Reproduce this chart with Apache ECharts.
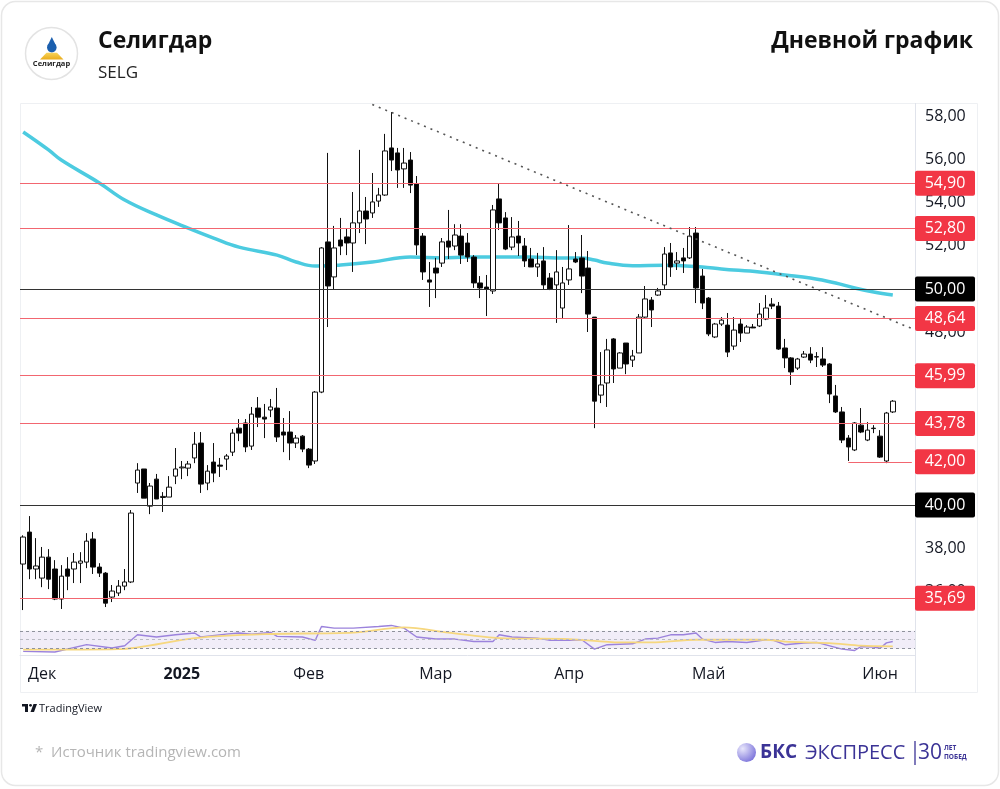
<!DOCTYPE html>
<html>
<head>
<meta charset="utf-8">
<script src="https://cdn.jsdelivr.net/npm/echarts@6/dist/echarts.min.js"></script>
<style>
  html, body { margin: 0; padding: 0; background: #fff; }
  #chart { width: 1000px; height: 789px; }
</style>
</head>
<body>
<div id="chart"></div>
<script>
// daily candles, [open, close, low, high]
const candles = [
  [37.27, 38.52, 35.14, 38.6], [38.75, 37.04, 36.57, 39.49], [37.04, 37.18, 36.57, 38.47], [36.62, 37.59, 36.2, 38.06],
  [37.59, 36.57, 36.11, 37.96], [37.04, 35.65, 35.6, 37.45], [35.65, 36.71, 35.19, 37.22], [37.04, 36.71, 36.06, 37.59],
  [37.04, 37.36, 36.39, 37.78], [37.31, 37.41, 36.39, 37.82], [37.36, 38.33, 37.08, 38.7], [38.43, 37.13, 36.81, 38.75],
  [37.13, 36.85, 36.67, 37.31], [36.85, 35.46, 35.28, 36.9], [35.74, 36.02, 35.51, 36.3], [35.93, 36.25, 35.79, 36.53],
  [36.25, 36.44, 36.06, 37.04], [36.44, 39.63, 36.39, 39.77], [41.02, 41.62, 40.56, 41.94], [41.67, 40.32, 40.32, 41.67],
  [39.95, 40.88, 39.58, 41.02], [41.2, 40.28, 40.28, 41.44], [40.35, 40.4, 39.68, 40.6], [40.37, 40.83, 40.37, 41.34],
  [41.34, 41.67, 40.97, 42.64], [41.72, 41.76, 41.2, 42.04], [41.71, 41.9, 41.34, 42.04], [42.18, 42.82, 41.94, 43.38],
  [42.87, 40.97, 40.56, 43.38], [41.02, 41.57, 40.69, 41.85], [41.99, 41.48, 41.06, 42.87], [41.85, 41.8, 41.3, 42.18],
  [42.13, 42.27, 41.62, 42.36], [42.45, 43.33, 42.27, 43.52], [43.56, 43.33, 42.96, 43.98], [43.8, 42.69, 42.45, 43.98],
  [42.73, 44.21, 42.55, 44.54], [44.49, 44.07, 43.61, 45.0], [44.07, 43.98, 43.1, 44.68], [44.4, 44.54, 44.07, 44.91],
  [44.49, 43.15, 42.92, 45.42], [43.38, 43.24, 42.45, 44.03], [43.38, 42.87, 42.08, 44.35], [42.87, 43.1, 42.64, 43.24],
  [43.19, 42.59, 42.45, 43.24], [42.59, 41.85, 41.71, 42.64], [42.04, 45.23, 41.9, 45.28], [45.23, 51.9, 45.18, 51.94],
  [52.18, 50.14, 48.24, 56.3], [50.56, 51.9, 50.0, 52.92], [52.27, 51.99, 51.57, 53.29], [52.41, 52.13, 51.57, 52.82],
  [52.13, 53.06, 50.79, 54.49], [53.06, 53.61, 52.59, 56.44], [53.61, 53.24, 52.08, 54.26], [53.52, 54.03, 53.29, 55.37],
  [54.07, 54.35, 53.8, 54.68], [54.35, 56.39, 54.31, 57.18], [56.53, 55.97, 55.46, 58.19], [56.3, 55.51, 54.68, 56.53],
  [55.56, 55.83, 54.68, 56.53], [55.97, 54.81, 54.44, 56.34], [54.86, 52.04, 51.57, 55.23], [52.45, 50.79, 50.42, 52.59],
  [50.42, 50.32, 49.17, 51.25], [50.97, 50.74, 49.58, 51.44], [51.2, 52.18, 51.02, 52.36], [52.22, 51.94, 51.39, 53.66],
  [51.99, 52.5, 51.8, 53.0], [52.45, 51.57, 51.16, 53.0], [52.13, 51.48, 51.25, 52.59], [51.48, 50.28, 50.05, 51.57],
  [50.28, 50.05, 49.58, 50.6], [50.09, 50.0, 48.75, 50.65], [49.91, 53.66, 49.77, 53.89], [54.17, 53.06, 52.73, 54.86],
  [53.29, 51.85, 51.8, 53.56], [51.94, 52.41, 51.8, 53.33], [52.45, 52.13, 51.53, 53.15], [51.99, 51.3, 51.02, 52.36],
  [51.39, 51.02, 51.02, 51.9], [51.02, 51.16, 50.56, 51.67], [51.3, 50.19, 50.0, 51.94], [50.51, 50.0, 49.95, 50.74],
  [50.19, 50.79, 48.43, 51.8], [49.12, 50.28, 48.61, 51.02], [50.42, 50.93, 50.19, 52.96], [51.39, 51.25, 51.2, 51.71],
  [51.44, 50.6, 49.81, 52.5], [50.97, 48.84, 48.01, 51.76], [48.7, 44.81, 43.56, 48.7], [45.09, 45.56, 44.72, 47.08],
  [45.65, 47.18, 44.54, 47.69], [47.69, 46.3, 45.65, 47.73], [46.34, 47.04, 46.34, 47.08], [47.5, 46.53, 46.06, 47.5],
  [46.71, 46.9, 46.39, 47.18], [47.04, 48.7, 47.04, 48.84], [48.7, 49.54, 48.66, 50.14], [49.49, 49.03, 48.24, 49.63],
  [49.72, 49.91, 49.68, 50.05], [50.19, 51.62, 50.0, 51.94], [51.67, 51.02, 50.56, 52.13], [51.2, 51.3, 50.88, 51.71],
  [51.44, 51.3, 50.74, 51.9], [51.44, 52.45, 51.39, 52.87], [52.59, 50.05, 49.35, 52.87], [50.6, 49.35, 49.07, 50.93],
  [49.58, 47.92, 47.82, 49.63], [47.78, 48.38, 47.73, 48.43], [48.38, 48.56, 48.29, 48.7], [48.33, 47.08, 46.85, 48.89],
  [47.36, 48.1, 47.18, 48.7], [48.38, 47.96, 47.55, 48.66], [47.96, 48.24, 47.96, 48.33], [48.24, 48.2, 48.19, 48.38],
  [48.29, 48.84, 48.24, 49.35], [48.61, 49.12, 48.56, 49.72], [49.3, 49.21, 49.07, 49.58], [49.21, 47.22, 47.18, 49.4],
  [47.27, 46.81, 46.34, 47.69], [46.81, 46.16, 45.56, 46.85], [46.34, 46.76, 46.25, 46.81], [46.85, 46.99, 46.81, 47.13],
  [46.99, 46.71, 46.57, 47.31], [46.87, 46.85, 46.39, 47.08], [46.76, 46.48, 46.39, 47.31], [46.53, 45.14, 44.72, 46.57],
  [45.05, 44.31, 44.26, 45.56], [44.31, 43.01, 42.87, 44.54], [43.1, 42.69, 42.04, 43.24], [42.55, 43.8, 42.5, 43.84],
  [43.7, 43.38, 43.33, 44.49], [43.01, 43.47, 42.96, 43.84], [43.56, 43.54, 43.33, 43.7], [43.19, 42.22, 42.18, 43.47],
  [42.04, 44.26, 41.94, 44.31], [44.31, 44.81, 44.26, 44.86]
];

// moving average, [bar index, value]
const maPoints = [
  [0, 57.27], [4, 56.44], [6, 55.97], [12, 54.91], [16, 54.12], [21, 53.43], [26, 52.82], [30, 52.36],
  [34, 51.94], [40, 51.57], [43, 51.25], [46, 51.06], [47, 51.06], [50, 51.11], [55, 51.25], [61, 51.48],
  [66, 51.44], [70, 51.48], [75, 51.48], [80, 51.48], [84, 51.44], [88, 51.44], [90, 51.34], [92, 51.2],
  [96, 51.08], [101, 51.1], [107, 51.02], [110, 50.93], [116, 50.79], [120, 50.65], [124, 50.51],
  [128, 50.28], [131, 50.05], [134, 49.86], [137, 49.72]
];

// RSI pane
const rsiPoints = [
  [0, 24], [5, 22.7], [10, 39], [14, 31.5], [16, 36.7], [18, 61], [21, 56], [24, 61], [27, 65], [28, 56],
  [32, 62.6], [34, 65], [36, 62.6], [39, 66.3], [40, 57.4], [44, 56], [46, 48.5], [47, 79.6], [49, 76],
  [52, 76], [56, 79.6], [58, 81.9], [60, 76], [62, 56], [65, 51.5], [68, 51.5], [71, 46], [74, 46], [75, 61],
  [77, 56], [81, 53.7], [83, 48.5], [86, 48.5], [88, 50], [90, 29], [92, 39], [96, 41], [98, 51.5],
  [100, 53.7], [102, 61], [104, 61], [106, 65], [107, 51.5], [109, 44], [111, 46], [114, 44], [117, 50],
  [118, 50], [120, 39], [123, 42.6], [125, 44], [129, 29], [131, 26], [132, 35], [134, 33.7], [135, 31],
  [136, 43], [137, 46]
];
const rsiMaPoints = [
  [0, 27.8], [15, 29], [27, 53.7], [38, 62.6], [52, 66], [60, 77.4], [67, 66], [75, 53.7], [86, 51.5],
  [94, 44], [99, 44], [106, 50], [117, 50], [120, 46], [127, 42.6], [132, 36.7], [137, 35]
];
const rsiBands = [30, 50, 70];

// levels
const redLevels = [54.90, 52.80, 48.64, 45.99, 43.78, 35.69];
const blackLevels = [50.00, 40.00];
const shortLevel = { value: 42.00, from: 130 };
const trendLine = [[55, 58.54], [140, 48.17]];

// axes
const barCount = 141;
const categories = Array.from({ length: barCount }, (_, i) => String(i));
const monthTicks = { 3: "Дек", 25: "2025", 45: "Фев", 65: "Мар", 86: "Апр", 108: "Май", 135: "Июн" };
const priceTicks = [36, 38, 40, 42, 44, 46, 48, 50, 52, 54, 56, 58];

const FONT = "'Open Sans', 'Noto Sans', sans-serif";
const RED = "#f23645";
const RED_LINE = "#f26670";
const INK = "#3b3396";
const fmt = (v) => Number(v).toFixed(2).replace(".", ",");

function tagLabel(bg) {
  return {
    show: true,
    position: "end",
    distance: 0,
    formatter: (p) => `{t|${fmt(p.value)}}`,
    backgroundColor: bg,
    padding: [4, 6, 4, 6],
    borderRadius: 2,
    rich: { t: { width: 48, align: "center", color: "#fff", fontSize: 16, fontFamily: FONT, lineHeight: 17 } },
  };
}

const solid = (color) => ({ color, width: 1.2, type: "solid" });

const levelLines = [
  ...redLevels.map((v) => ({ yAxis: v, lineStyle: solid(RED_LINE), label: tagLabel(RED) })),
  ...blackLevels.map((v) => ({ yAxis: v, lineStyle: solid("#333"), label: tagLabel("#000") })),
  { yAxis: shortLevel.value, lineStyle: { color: "rgba(0,0,0,0)", width: 1, type: "solid" }, label: tagLabel(RED) },
  [
    { coord: [shortLevel.from, shortLevel.value], lineStyle: solid(RED_LINE), label: { show: false } },
    { coord: [barCount - 1, shortLevel.value] },
  ],
  [
    { coord: trendLine[0], lineStyle: { color: "#555", width: 1.6, type: [2, 5] }, label: { show: false } },
    { coord: trendLine[1] },
  ],
];

const chart = echarts.init(document.getElementById("chart"), null, { renderer: "canvas" });

chart.setOption({
  animation: false,
  backgroundColor: "#fff",
  grid: [
    { left: 20, width: 895, top: 103, height: 517 },
    { left: 20, width: 895, top: 620, height: 35 },
  ],
  xAxis: [
    {
      type: "category", gridIndex: 0, data: categories, boundaryGap: true,
      axisLine: { show: false }, axisTick: { show: false }, axisLabel: { show: false }, splitLine: { show: false },
    },
    {
      type: "category", gridIndex: 1, data: categories, boundaryGap: true,
      axisLine: { show: true, lineStyle: { color: "#e0e3eb" } },
      axisTick: { show: false },
      axisLabel: {
        interval: 0,
        margin: 11,
        color: "#131722",
        fontSize: 16,
        fontFamily: FONT,
        formatter: (v, idx) => {
          const t = monthTicks[idx];
          if (!t) return "";
          return t === "2025" ? `{b|${t}}` : t;
        },
        rich: { b: { fontWeight: "bold", fontSize: 16, fontFamily: FONT, color: "#131722" } },
      },
    },
  ],
  yAxis: [
    {
      type: "value", gridIndex: 0, position: "right", min: 34.68, max: 58.61,
      axisLine: { show: false }, axisTick: { show: false }, splitLine: { show: false },
      axisLabel: {
        customValues: priceTicks,
        margin: 10,
        color: "#131722",
        fontSize: 16,
        fontFamily: FONT,
        formatter: (v) => fmt(v),
      },
    },
    {
      type: "value", gridIndex: 1, position: "right", min: 16, max: 94,
      axisLine: { show: false }, axisTick: { show: false }, splitLine: { show: false }, axisLabel: { show: false },
    },
  ],
  series: [
    {
      name: "SELG",
      type: "candlestick",
      xAxisIndex: 0, yAxisIndex: 0,
      data: candles,
      barWidth: 5,
      itemStyle: { color: "#ffffff", color0: "#000000", borderColor: "#111", borderColor0: "#111", borderWidth: 1 },
      markLine: { silent: true, symbol: ["none", "none"], animation: false, data: levelLines },
      z: 3,
    },
    {
      name: "MA",
      type: "line",
      xAxisIndex: 0, yAxisIndex: 0,
      data: maPoints,
      smooth: 0.4,
      showSymbol: false,
      lineStyle: { color: "#4ccbe0", width: 3.5 },
      z: 2,
    },
    {
      name: "RSI",
      type: "line",
      xAxisIndex: 1, yAxisIndex: 1,
      data: rsiPoints,
      showSymbol: false,
      lineStyle: { color: "#9b82dc", width: 1.4 },
      markArea: {
        silent: true,
        itemStyle: { color: "rgba(126,87,194,0.11)" },
        data: [[{ yAxis: rsiBands[0] }, { yAxis: rsiBands[2] }]],
      },
      markLine: {
        silent: true, symbol: ["none", "none"], label: { show: false },
        data: rsiBands.map((v) => ({
          yAxis: v,
          lineStyle: { color: v === 50 ? "#b8b9c2" : "#8f929c", width: 1, type: [3, 3] },
        })),
      },
    },
    {
      name: "RSI MA",
      type: "line",
      xAxisIndex: 1, yAxisIndex: 1,
      data: rsiMaPoints,
      smooth: 0.3,
      showSymbol: false,
      lineStyle: { color: "#f6d77e", width: 1.8 },
    },
  ],
  graphic: [
    // card
    { type: "rect", shape: { x: 1.5, y: 1.5, width: 997, height: 784, r: 14 }, style: { fill: "none", stroke: "#e7e7e7", lineWidth: 1.5 } },
    // chart frame
    { type: "rect", shape: { x: 20.5, y: 103.5, width: 957, height: 589 }, style: { fill: "none", stroke: "#eef0f3", lineWidth: 1 } },
    { type: "line", shape: { x1: 915.5, y1: 103, x2: 915.5, y2: 693 }, style: { stroke: "#e0e3eb", lineWidth: 1 } },
    // logo
    { type: "circle", shape: { cx: 51.5, cy: 53.5, r: 26 }, style: { fill: "#fff", stroke: "#e3e3e3", lineWidth: 1.5 } },
    { type: "polygon", shape: { points: [[51.8, 37], [47.4, 46], [56.2, 46]] }, style: { fill: "#1b5fae" } },
    { type: "circle", shape: { cx: 51.8, cy: 47.6, r: 4.8 }, style: { fill: "#1b5fae" } },
    {
      type: "polygon",
      shape: { points: [[46.5, 52.8], [57, 52.8], [63.5, 59.5], [40, 59.5]] },
      style: { fill: { type: "linear", x: 0, y: 0, x2: 0, y2: 1, colorStops: [{ offset: 0, color: "#f7d35a" }, { offset: 1, color: "#e9ac1c" }] } },
    },
    { type: "text", x: 51.5, y: 64, style: { text: "Селигдар", font: `bold 7.5px ${FONT}`, fill: "#222", align: "center", verticalAlign: "middle" } },
    // header
    { type: "text", x: 98, y: 41, style: { text: "Селигдар", font: `bold 23px ${FONT}`, fill: "#111", verticalAlign: "middle" } },
    { type: "text", x: 98, y: 73, style: { text: "SELG", font: `17px ${FONT}`, fill: "#222", verticalAlign: "middle" } },
    { type: "text", x: 973, y: 41, style: { text: "Дневной график", font: `bold 23px ${FONT}`, fill: "#111", align: "right", verticalAlign: "middle" } },
    // TradingView mark
    { type: "rect", shape: { x: 22, y: 704, width: 6, height: 2.5 }, style: { fill: "#131722" } },
    { type: "rect", shape: { x: 25, y: 704, width: 3, height: 8 }, style: { fill: "#131722" } },
    { type: "circle", shape: { cx: 30.5, cy: 705.3, r: 1.4 }, style: { fill: "#131722" } },
    { type: "polygon", shape: { points: [[33.5, 704], [37, 704], [34, 712], [30.5, 712]] }, style: { fill: "#131722" } },
    { type: "text", x: 39, y: 708.5, style: { text: "TradingView", font: `11px ${FONT}`, fill: "#131722", verticalAlign: "middle" } },
    // footer
    { type: "text", x: 35, y: 753, style: { text: "*  Источник tradingview.com", font: `15px ${FONT}`, fill: "#b5b5b5", verticalAlign: "middle" } },
    {
      type: "circle", shape: { cx: 746.5, cy: 752.5, r: 9.5 },
      style: { fill: { type: "radial", x: 0.3, y: 0.3, r: 0.9, colorStops: [{ offset: 0, color: "#e8e6fb" }, { offset: 1, color: "#6c63d6" }] } },
    },
    { type: "text", x: 760, y: 753, style: { text: "БКС", font: `bold 19px ${FONT}`, fill: INK, verticalAlign: "middle" } },
    { type: "text", x: 805, y: 753, style: { text: "ЭКСПРЕСС", font: `20px ${FONT}`, fill: INK, verticalAlign: "middle" } },
    { type: "line", shape: { x1: 915, y1: 741, x2: 915, y2: 765 }, style: { stroke: INK, lineWidth: 1.3 } },
    { type: "text", x: 918, y: 753, style: { text: "30", font: `21px ${FONT}`, fill: INK, verticalAlign: "middle" } },
    { type: "text", x: 944, y: 748, style: { text: "ЛЕТ", font: `bold 6.5px ${FONT}`, fill: INK, verticalAlign: "middle" } },
    { type: "text", x: 944, y: 757, style: { text: "ПОБЕД", font: `bold 6.5px ${FONT}`, fill: INK, verticalAlign: "middle" } },
  ],
});
</script>
</body>
</html>
